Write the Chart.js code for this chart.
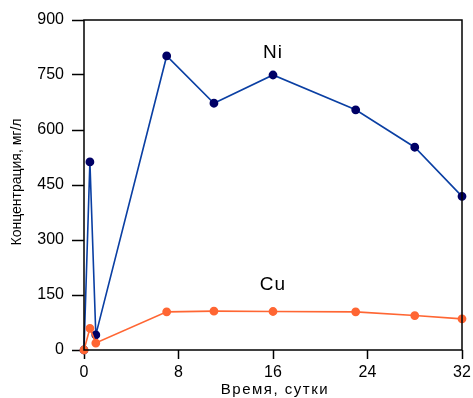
<!DOCTYPE html>
<html>
<head>
<meta charset="utf-8">
<script src="https://cdn.jsdelivr.net/npm/chart.js@4.4.0/dist/chart.umd.min.js"></script>
<style>
  html, body { margin: 0; padding: 0; background: #fff; }
  #wrap { width: 473px; height: 398px; }
</style>
</head>
<body>
<div id="wrap"><canvas id="myChart" width="473" height="398"></canvas></div>
<script>
// Time in days and concentrations (mg/l)
const days = [0, 0.5, 1, 7, 11, 16, 23, 28, 32];
const niValues = [0, 513, 41, 802, 673, 750, 655, 553, 419];
const cuValues = [0, 59, 19, 104, 106, 105, 104, 94, 85];

const xTicks = [0, 8, 16, 24, 32];
const yTicks = [0, 150, 300, 450, 600, 750, 900];

const xTitle = 'Время, сутки';
const yTitle = 'Концентрация, мг/л';

// Series labels placed in data coordinates
const seriesLabels = [
    { text: 'Ni', x: 16, y: 810 },
    { text: 'Cu', x: 16, y: 177 },
];

const FONT = "'Liberation Sans', Arial, sans-serif";

const toPoints = (xs, ys) => xs.map((x, i) => ({ x: x, y: ys[i] }));

// Frame around the plot area, axis titles and the Ni / Cu captions
const framePlugin = {
    id: 'frame',
    afterDatasetsDraw(chart) {
        const { ctx, chartArea, scales } = chart;
        ctx.save();
        ctx.strokeStyle = '#000';
        ctx.lineWidth = 1.5;
        ctx.strokeRect(chartArea.left, chartArea.top,
            chartArea.right - chartArea.left, chartArea.bottom - chartArea.top);

        ctx.fillStyle = '#000';
        ctx.textAlign = 'center';
        ctx.textBaseline = 'middle';
        ctx.font = '19px ' + FONT;
        ctx.letterSpacing = '1px';
        seriesLabels.forEach(l => {
            ctx.fillText(l.text, scales.x.getPixelForValue(l.x), scales.y.getPixelForValue(l.y));
        });

        // x title sits under the tick labels
        ctx.font = '15px ' + FONT;
        ctx.letterSpacing = '1.5px';
        ctx.textBaseline = 'alphabetic';
        ctx.fillText(xTitle, (chartArea.left + chartArea.right) / 2 + 2, chart.height - 4);

        // y title, rotated, at the left edge
        ctx.font = '14px ' + FONT;
        ctx.letterSpacing = '0px';
        ctx.textBaseline = 'middle';
        ctx.translate(17, (chartArea.top + chartArea.bottom) / 2 - 3);
        ctx.rotate(-Math.PI / 2);
        ctx.fillText(yTitle, 0, 0);
        ctx.restore();
    }
};

const ctx = document.getElementById('myChart');

const chart = new Chart(ctx, {
    type: 'line',
    data: {
        datasets: [
            {
                label: 'Cu',
                data: toPoints(days, cuValues),
                borderColor: '#ff6633',
                backgroundColor: '#ff6633',
                pointBackgroundColor: '#ff6633',
                pointBorderColor: '#ff6633',
                borderWidth: 1.6,
                pointRadius: 3.6,
                order: 0,
                clip: false,
            },
            {
                label: 'Ni',
                data: toPoints(days, niValues),
                borderColor: '#0a3fa3',
                backgroundColor: '#000066',
                pointBackgroundColor: '#000066',
                pointBorderColor: '#000066',
                borderWidth: 1.6,
                pointRadius: 3.6,
                order: 1,
                clip: false,
            },
        ]
    },
    options: {
        responsive: false,
        animation: false,
        events: [],
        layout: { padding: { top: 20, right: 11, left: 0, bottom: 0 } },
        plugins: {
            legend: { display: false },
            tooltip: { enabled: false },
        },
        scales: {
            x: {
                type: 'linear',
                min: 0,
                max: 32,
                afterBuildTicks: (scale) => { scale.ticks = xTicks.map(v => ({ value: v })); },
                afterFit: (scale) => {
                    scale.height = 48;
                    scale.paddingLeft = 0;
                    scale.paddingRight = 0;
                },
                border: { display: false },
                grid: {
                    drawOnChartArea: false,
                    drawTicks: true,
                    tickLength: 9,
                    tickColor: '#000',
                    tickWidth: 1.5,
                },
                ticks: {
                    color: '#000',
                    padding: 4,
                    maxRotation: 0,
                    font: { family: FONT, size: 16 },
                },
            },
            y: {
                type: 'linear',
                min: 0,
                max: 900,
                afterBuildTicks: (scale) => { scale.ticks = yTicks.map(v => ({ value: v })); },
                afterFit: (scale) => {
                    scale.width = 84;
                    scale.paddingTop = 0;
                    scale.paddingBottom = 0;
                },
                border: { display: false },
                grid: {
                    drawOnChartArea: false,
                    drawTicks: true,
                    tickLength: 12,
                    tickColor: '#000',
                    tickWidth: 1.5,
                },
                ticks: {
                    color: '#000',
                    padding: 8,
                    font: { family: FONT, size: 16 },
                },
            },
        },
    },
    plugins: [framePlugin],
});
</script>
</body>
</html>
